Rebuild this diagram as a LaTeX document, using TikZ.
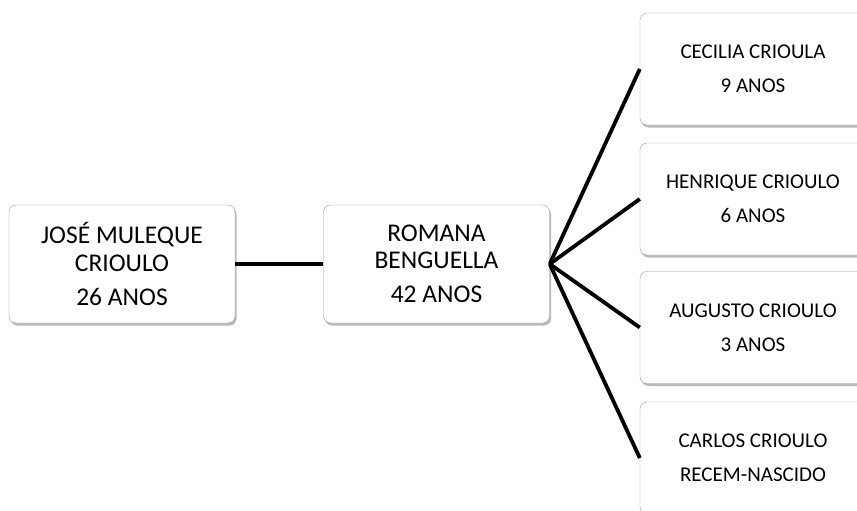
\documentclass[tikz,border=0pt]{standalone}
\usepackage{fontspec}
\setmainfont{Carlito}
\usetikzlibrary{shadows}
\definecolor{boxgray}{HTML}{9A9A9A}
\tikzset{person box/.style={draw=boxgray, fill=white, rounded corners=7pt, inner sep=0pt, align=center,
    drop shadow={shadow xshift=1.5pt, shadow yshift=-2.5pt, fill=black!55, opacity=.5}}}
\tikzset{big box/.style={person box, minimum width=226pt, minimum height=118pt, font=\fontsize{25.5}{27.5}\selectfont}}
\tikzset{child box/.style={person box, minimum width=226pt, minimum height=112pt, font=\fontsize{21}{25}\selectfont}}
\tikzset{link/.style={line width=3.8pt, black}}

\begin{document}
\begin{tikzpicture}[x=1pt, y=-1pt]
            \useasboundingbox (0,0) rectangle (857,511);

            %caixas
            \node[big box] (jose) at (122, 264) {JOSÉ MULEQUE\\CRIOULO\\[6.5pt]26 ANOS};
            \node[big box] (romana) at (436.5, 264) {ROMANA\\BENGUELLA\\[6.5pt]42 ANOS};
            \node[child box] (cecilia) at (753, 69) {CECILIA CRIOULA\\[9pt]9 ANOS};
            \node[child box] (henrique) at (753, 199) {HENRIQUE CRIOULO\\[9pt]6 ANOS};
            \node[child box] (augusto) at (753, 327.5) {AUGUSTO CRIOULO\\[9pt]3 ANOS};
            \node[child box] (carlos) at (753, 458) {CARLOS CRIOULO\\[9pt]RECEM-NASCIDO};

            %linhas
            \draw[link] (jose) -- (romana);
            \foreach \filho in {cecilia, henrique, augusto, carlos}
              \draw[link] (romana.east) -- (\filho.west);

          \end{tikzpicture}
\end{document}
